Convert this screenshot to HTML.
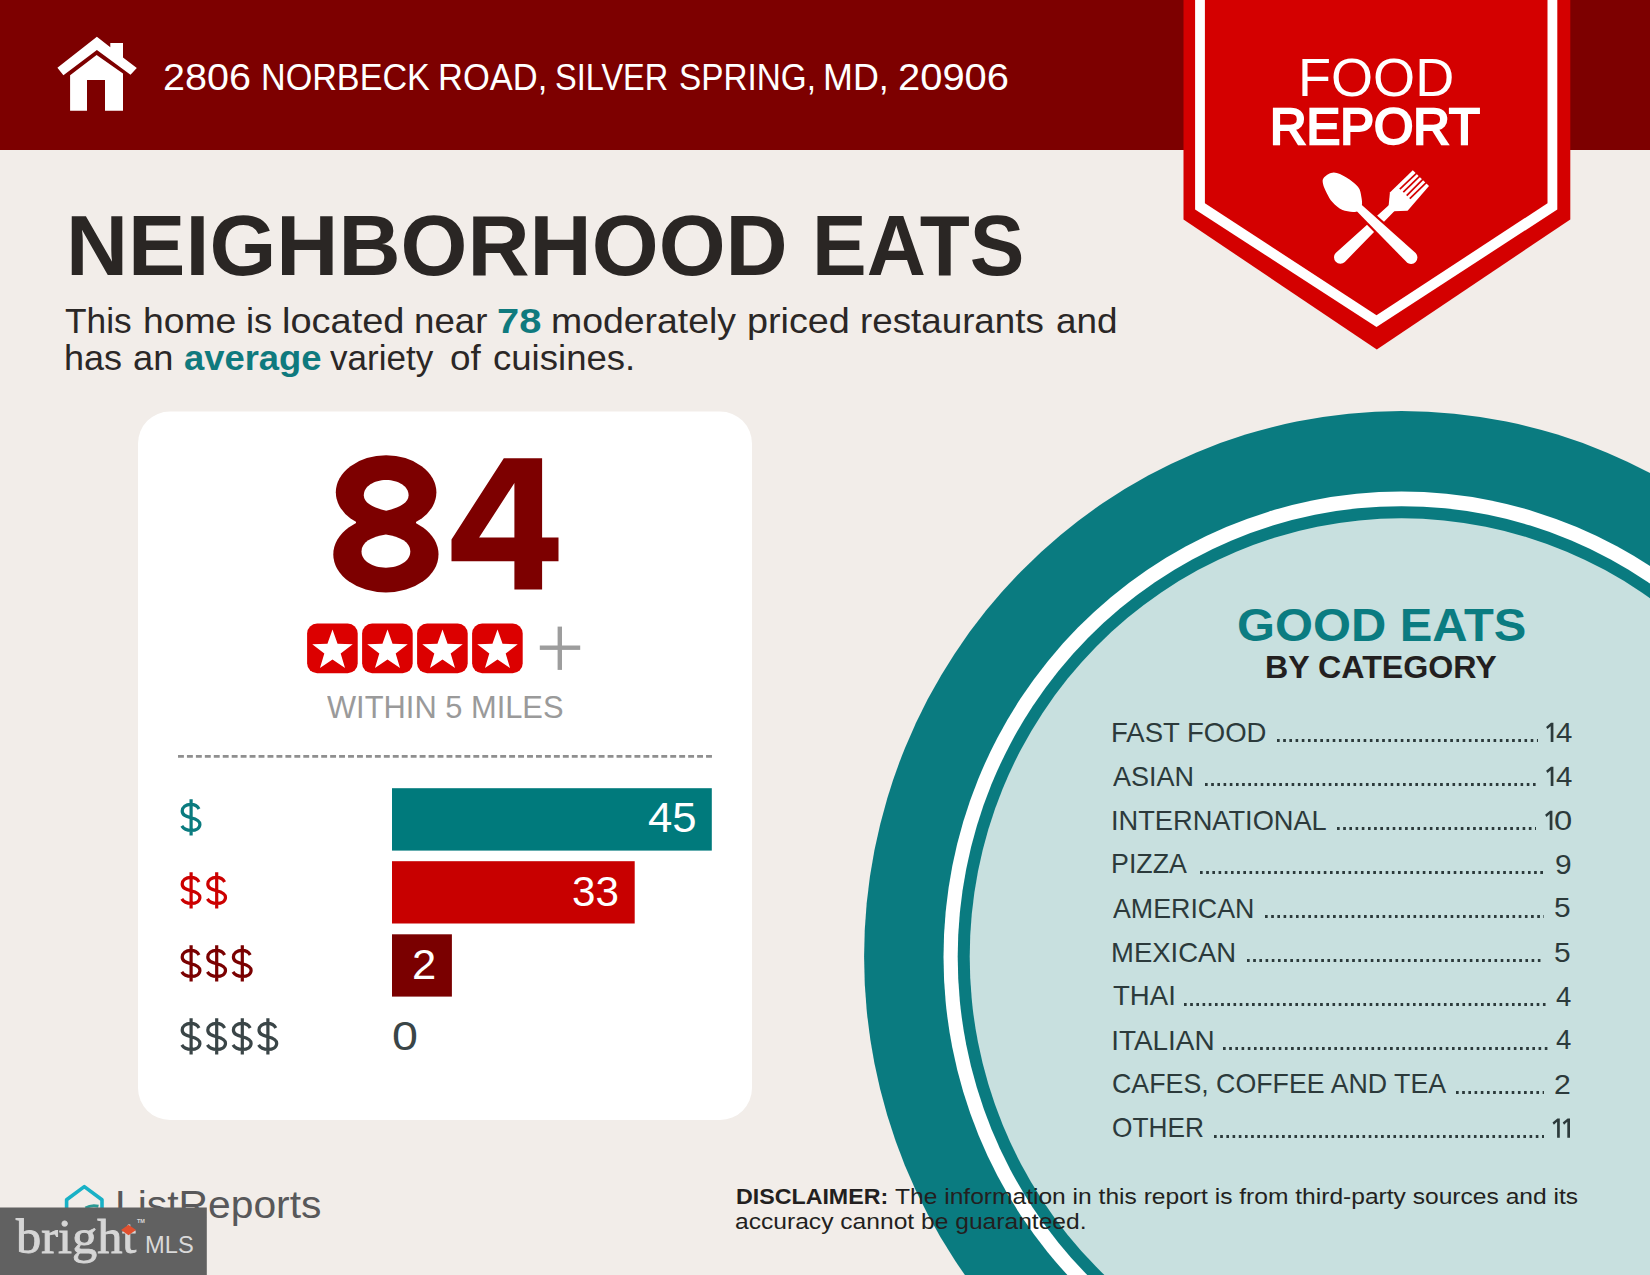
<!DOCTYPE html>
<html><head><meta charset="utf-8"><style>
html,body{margin:0;padding:0;}
body{width:1650px;height:1275px;position:relative;overflow:hidden;background:#f2ede9;font-family:"Liberation Sans",sans-serif;}
.t{position:absolute;white-space:nowrap;line-height:1;transform-origin:0 0;}
.a{position:absolute;}
</style></head><body>
<svg class="a" style="left:0;top:0" width="1650" height="1275" viewBox="0 0 1650 1275">
<rect x="0" y="0" width="1650" height="150" fill="#7d0000"/>
<ellipse cx="1401.5" cy="956.8" rx="537.4" ry="545.7" fill="#0a7b80"/>
<ellipse cx="1401.5" cy="956.8" rx="458.0" ry="465.2" fill="#ffffff"/>
<ellipse cx="1401.5" cy="956.8" rx="443.8" ry="450.6" fill="#0a7b80"/>
<ellipse cx="1401.5" cy="956.8" rx="431.8" ry="438.5" fill="#c8e0df"/>
<polygon points="1183.5,0 1570.3,0 1570.3,219.5 1376.8,349.5 1183.5,219.5" fill="#d40000"/>
<polygon points="1195.1,0 1557.3,0 1557.3,209.5 1376.5,327 1195.1,209.5" fill="#ffffff"/>
<polygon points="1204.9,0 1547.5,0 1547.5,203.3 1376.5,315.2 1204.9,203.3" fill="#d40000"/>
<path d="M1388.6,206.3 L1389.9,192.6 L1412.8,170.2 L1429,186.1 L1407.6,210.7 L1393.4,211.3 Z" fill="#ffffff"/>
<line x1="1399.8" y1="189.2" x2="1419.3" y2="170.7" stroke="#d40000" stroke-width="1.7"/>
<line x1="1403.3" y1="192.2" x2="1422.3" y2="173.7" stroke="#d40000" stroke-width="1.7"/>
<line x1="1406.7" y1="195.6" x2="1425.6" y2="176.7" stroke="#d40000" stroke-width="1.7"/>
<line x1="1409.8" y1="198.6" x2="1428.8" y2="180.2" stroke="#d40000" stroke-width="1.7"/>
<path d="M1390.43,203.81 L1395.97,209.59 L1344.83,261.92 A6.4,6.4 0 0 1 1335.97,252.68 Z" fill="#ffffff"/>
<path d="M1355.60,209.92 L1361.00,204.28 L1415.62,253.08 A6.4,6.4 0 0 1 1406.78,262.32 Z" fill="#d40000" stroke="#d40000" stroke-width="4.5" stroke-linejoin="round"/>
<path d="M1355.60,209.92 L1361.00,204.28 L1415.62,253.08 A6.4,6.4 0 0 1 1406.78,262.32 Z" fill="#ffffff"/>
<path d="M1361.70,205.80 C1362.55,203.25 1361.90,199.53 1361.30,196.40 C1360.70,193.27 1360.58,190.15 1358.10,187.00 C1355.62,183.85 1350.45,179.92 1346.40,177.50 C1342.35,175.08 1337.53,172.50 1333.80,172.50 C1330.07,172.50 1325.80,175.62 1324.00,177.50 C1322.20,179.38 1322.53,181.18 1323.00,183.80 C1323.47,186.42 1325.20,190.12 1326.80,193.20 C1328.40,196.28 1329.98,199.48 1332.60,202.30 C1335.22,205.12 1338.57,208.53 1342.50,210.10 C1346.43,211.67 1353.00,212.42 1356.20,211.70 C1359.40,210.98 1360.85,208.35 1361.70,205.80 Z" fill="#ffffff"/>
<polygon points="96.9,36.7 110.3,47.3 110.3,43.1 123,43.1 123,57.6 136.8,68.1 130.5,74.8 96.9,50.1 63.4,75.2 57.4,67.8" fill="#ffffff"/>
<path d="M96.6,55.1 L123,73.4 L123,110.8 L105,110.8 L105,80.1 L87,80.1 L87,110.8 L70.1,110.8 L70.1,75.2 Z" fill="#ffffff"/>
<rect x="138" y="411.5" width="614" height="708.5" rx="32" ry="32" fill="#ffffff"/>
<ellipse cx="386.1" cy="492.3" rx="50.3" ry="37" fill="#7d0000"/>
<ellipse cx="385.9" cy="554.4" rx="52.6" ry="38" fill="#7d0000"/>
<rect x="356" y="515" width="60" height="12" fill="#7d0000"/>
<path d="M363.8,495.3 C363.8,486.5 373.8,480 386.2,480 C398.6,480 408.6,486.5 408.6,495.3 C408.6,503.5 398,508 386.2,510.8 C374.4,508 363.8,503.5 363.8,495.3 Z" fill="#ffffff"/>
<path d="M361.5,551.6 C361.5,542 371.5,537 385.9,534.6 C400.3,537 410.3,542 410.3,551.6 C410.3,561 399.4,567.7 385.9,567.7 C372.4,567.7 361.5,561 361.5,551.6 Z" fill="#ffffff"/>
<path fill-rule="evenodd" d="M503.8,458.2 L542.1,458.2 L542.1,537.6 L558.5,537.6 L558.5,561.2 L542.1,561.2 L542.1,589.4 L514.4,589.4 L514.4,561.2 L451.5,561.2 L451.5,539.4 Z M479.1,537.6 L514.4,483 L514.4,537.6 Z" fill="#7d0000"/>
<rect x="307.1" y="623.6" width="50.6" height="49.6" rx="10" ry="10" fill="#dc0000"/>
<polygon points="332.50,629.50 337.55,643.84 352.76,644.22 340.68,653.46 345.02,668.03 332.50,659.40 319.98,668.03 324.32,653.46 312.24,644.22 327.45,643.84" fill="#ffffff"/>
<rect x="362.1" y="623.6" width="50.6" height="49.6" rx="10" ry="10" fill="#dc0000"/>
<polygon points="387.50,629.50 392.55,643.84 407.76,644.22 395.68,653.46 400.02,668.03 387.50,659.40 374.98,668.03 379.32,653.46 367.24,644.22 382.45,643.84" fill="#ffffff"/>
<rect x="417.1" y="623.6" width="50.6" height="49.6" rx="10" ry="10" fill="#dc0000"/>
<polygon points="442.50,629.50 447.55,643.84 462.76,644.22 450.68,653.46 455.02,668.03 442.50,659.40 429.98,668.03 434.32,653.46 422.24,644.22 437.45,643.84" fill="#ffffff"/>
<rect x="472.1" y="623.6" width="50.6" height="49.6" rx="10" ry="10" fill="#dc0000"/>
<polygon points="497.50,629.50 502.55,643.84 517.76,644.22 505.68,653.46 510.02,668.03 497.50,659.40 484.98,668.03 489.32,653.46 477.24,644.22 492.45,643.84" fill="#ffffff"/>
<rect x="539.8" y="645.5" width="40.4" height="4.4" fill="#9d9d9d"/>
<rect x="557.6" y="626.6" width="4.4" height="43.3" fill="#9d9d9d"/>
<line x1="178" y1="756.3" x2="712" y2="756.3" stroke="#8f8f8f" stroke-width="2.8" stroke-dasharray="5.9 3.05"/>
<rect x="392" y="788.2" width="319.8" height="62.4" fill="#007a7c"/>
<rect x="392" y="861.2" width="242.7" height="62.3" fill="#c80000"/>
<rect x="392" y="934.3" width="59.9" height="62.3" fill="#7a0000"/>
<path transform="translate(181.80,804.30)" d="M17.2,4.6 C15.6,1.6 12.6,0 9.0,0 C4.0,0 0.4,2.8 0.4,6.8 C0.4,11.0 4.0,12.2 9.0,13.4 C14.4,14.6 18.1,16.2 18.1,20.0 C18.1,24.0 14.4,26.2 9.4,26.2 C5.2,26.2 1.8,24.6 0,21.6 M9.3,-5 L9.3,31.2" fill="none" stroke="#0a7b7f" stroke-width="3.2"/>
<path transform="translate(181.80,877.30)" d="M17.2,4.6 C15.6,1.6 12.6,0 9.0,0 C4.0,0 0.4,2.8 0.4,6.8 C0.4,11.0 4.0,12.2 9.0,13.4 C14.4,14.6 18.1,16.2 18.1,20.0 C18.1,24.0 14.4,26.2 9.4,26.2 C5.2,26.2 1.8,24.6 0,21.6 M9.3,-5 L9.3,31.2" fill="none" stroke="#cc0000" stroke-width="3.2"/>
<path transform="translate(207.40,877.30)" d="M17.2,4.6 C15.6,1.6 12.6,0 9.0,0 C4.0,0 0.4,2.8 0.4,6.8 C0.4,11.0 4.0,12.2 9.0,13.4 C14.4,14.6 18.1,16.2 18.1,20.0 C18.1,24.0 14.4,26.2 9.4,26.2 C5.2,26.2 1.8,24.6 0,21.6 M9.3,-5 L9.3,31.2" fill="none" stroke="#cc0000" stroke-width="3.2"/>
<path transform="translate(181.80,950.30)" d="M17.2,4.6 C15.6,1.6 12.6,0 9.0,0 C4.0,0 0.4,2.8 0.4,6.8 C0.4,11.0 4.0,12.2 9.0,13.4 C14.4,14.6 18.1,16.2 18.1,20.0 C18.1,24.0 14.4,26.2 9.4,26.2 C5.2,26.2 1.8,24.6 0,21.6 M9.3,-5 L9.3,31.2" fill="none" stroke="#7a0000" stroke-width="3.2"/>
<path transform="translate(207.40,950.30)" d="M17.2,4.6 C15.6,1.6 12.6,0 9.0,0 C4.0,0 0.4,2.8 0.4,6.8 C0.4,11.0 4.0,12.2 9.0,13.4 C14.4,14.6 18.1,16.2 18.1,20.0 C18.1,24.0 14.4,26.2 9.4,26.2 C5.2,26.2 1.8,24.6 0,21.6 M9.3,-5 L9.3,31.2" fill="none" stroke="#7a0000" stroke-width="3.2"/>
<path transform="translate(233.00,950.30)" d="M17.2,4.6 C15.6,1.6 12.6,0 9.0,0 C4.0,0 0.4,2.8 0.4,6.8 C0.4,11.0 4.0,12.2 9.0,13.4 C14.4,14.6 18.1,16.2 18.1,20.0 C18.1,24.0 14.4,26.2 9.4,26.2 C5.2,26.2 1.8,24.6 0,21.6 M9.3,-5 L9.3,31.2" fill="none" stroke="#7a0000" stroke-width="3.2"/>
<path transform="translate(181.80,1023.30)" d="M17.2,4.6 C15.6,1.6 12.6,0 9.0,0 C4.0,0 0.4,2.8 0.4,6.8 C0.4,11.0 4.0,12.2 9.0,13.4 C14.4,14.6 18.1,16.2 18.1,20.0 C18.1,24.0 14.4,26.2 9.4,26.2 C5.2,26.2 1.8,24.6 0,21.6 M9.3,-5 L9.3,31.2" fill="none" stroke="#3a4547" stroke-width="3.2"/>
<path transform="translate(207.40,1023.30)" d="M17.2,4.6 C15.6,1.6 12.6,0 9.0,0 C4.0,0 0.4,2.8 0.4,6.8 C0.4,11.0 4.0,12.2 9.0,13.4 C14.4,14.6 18.1,16.2 18.1,20.0 C18.1,24.0 14.4,26.2 9.4,26.2 C5.2,26.2 1.8,24.6 0,21.6 M9.3,-5 L9.3,31.2" fill="none" stroke="#3a4547" stroke-width="3.2"/>
<path transform="translate(233.00,1023.30)" d="M17.2,4.6 C15.6,1.6 12.6,0 9.0,0 C4.0,0 0.4,2.8 0.4,6.8 C0.4,11.0 4.0,12.2 9.0,13.4 C14.4,14.6 18.1,16.2 18.1,20.0 C18.1,24.0 14.4,26.2 9.4,26.2 C5.2,26.2 1.8,24.6 0,21.6 M9.3,-5 L9.3,31.2" fill="none" stroke="#3a4547" stroke-width="3.2"/>
<path transform="translate(258.60,1023.30)" d="M17.2,4.6 C15.6,1.6 12.6,0 9.0,0 C4.0,0 0.4,2.8 0.4,6.8 C0.4,11.0 4.0,12.2 9.0,13.4 C14.4,14.6 18.1,16.2 18.1,20.0 C18.1,24.0 14.4,26.2 9.4,26.2 C5.2,26.2 1.8,24.6 0,21.6 M9.3,-5 L9.3,31.2" fill="none" stroke="#3a4547" stroke-width="3.2"/>
<polygon points="1553.4,722.8000000000001 1553.4,742.1 1550.7,742.1 1550.7,726.2 1547.5,729.0000000000001 1546.1000000000001,726.9000000000001 1551.0,722.8000000000001" fill="#2c3a3b"/>
<polygon points="1553.4,766.7600000000001 1553.4,786.0600000000001 1550.7,786.0600000000001 1550.7,770.1600000000001 1547.5,772.9600000000002 1546.1000000000001,770.8600000000001 1551.0,766.7600000000001" fill="#2c3a3b"/>
<polygon points="1552.4,810.72 1552.4,830.02 1549.7,830.02 1549.7,814.12 1546.5,816.9200000000001 1545.1000000000001,814.82 1550.0,810.72" fill="#2c3a3b"/>
<polygon points="1559.8,1118.44 1559.8,1137.74 1557.1,1137.74 1557.1,1121.8400000000001 1553.8999999999999,1124.64 1552.5,1122.54 1557.3999999999999,1118.44" fill="#2c3a3b"/>
<polygon points="1570,1118.44 1570,1137.74 1567.3,1137.74 1567.3,1121.8400000000001 1564.1,1124.64 1562.7,1122.54 1567.6,1118.44" fill="#2c3a3b"/>
<polyline points="66.6,1209 66.6,1199.8 84.3,1186.6 102,1199.8 102,1209" fill="none" stroke="#19b1c6" stroke-width="3.6" stroke-linejoin="round"/>
<path d="M85.5,1208 Q91,1204.6 98.5,1206.2" fill="none" stroke="#2a9a94" stroke-width="3"/>
</svg>
<div id="aw0" class="t" style="left:162.91px;top:59.96px;font-size:36.48px;font-weight:400;color:#ffffff;font-family:'Liberation Sans', sans-serif;transform:scaleX(1.0827);">2806</div>
<div id="aw1" class="t" style="left:261.18px;top:59.96px;font-size:36.48px;font-weight:400;color:#ffffff;font-family:'Liberation Sans', sans-serif;transform:scaleX(0.9362);">NORBECK</div>
<div id="aw2" class="t" style="left:438.14px;top:59.96px;font-size:36.48px;font-weight:400;color:#ffffff;font-family:'Liberation Sans', sans-serif;transform:scaleX(0.9456);">ROAD,</div>
<div id="aw3" class="t" style="left:555.18px;top:59.96px;font-size:36.48px;font-weight:400;color:#ffffff;font-family:'Liberation Sans', sans-serif;transform:scaleX(0.8920);">SILVER</div>
<div id="aw4" class="t" style="left:679.16px;top:59.96px;font-size:36.48px;font-weight:400;color:#ffffff;font-family:'Liberation Sans', sans-serif;transform:scaleX(0.9132);">SPRING,</div>
<div id="aw5" class="t" style="left:823.05px;top:59.96px;font-size:36.48px;font-weight:400;color:#ffffff;font-family:'Liberation Sans', sans-serif;transform:scaleX(0.9836);">MD,</div>
<div id="aw6" class="t" style="left:897.85px;top:59.96px;font-size:36.48px;font-weight:400;color:#ffffff;font-family:'Liberation Sans', sans-serif;transform:scaleX(1.0940);">20906</div>
<div id="food" class="t" style="left:1297.80px;top:51.29px;font-size:53.93px;font-weight:400;color:#ffffff;font-family:'Liberation Sans', sans-serif;transform:scaleX(1.0028);">FOOD</div>
<div id="report" class="t" style="left:1270.38px;top:102.10px;font-size:50.20px;font-weight:400;color:#ffffff;font-family:'Liberation Sans', sans-serif;transform:scaleX(1.0078);-webkit-text-stroke:2.4px #fff">REPORT</div>
<div id="h1" class="t" style="left:66.18px;top:203.39px;font-size:85.76px;font-weight:700;color:#2a2624;font-family:'Liberation Sans', sans-serif;transform:scaleX(1.0032);">NEIGHBORHOOD</div>
<div id="h1b" class="t" style="left:812.43px;top:203.39px;font-size:85.76px;font-weight:700;color:#2a2624;font-family:'Liberation Sans', sans-serif;transform:scaleX(0.9552);">EATS</div>
<div id="pw0" class="t" style="left:65.49px;top:303.85px;font-size:35.61px;font-weight:400;color:#2b2726;font-family:'Liberation Sans', sans-serif;transform:scaleX(0.9911);">This</div>
<div id="pw1" class="t" style="left:142.61px;top:303.85px;font-size:35.61px;font-weight:400;color:#2b2726;font-family:'Liberation Sans', sans-serif;transform:scaleX(1.0466);">home</div>
<div id="pw2" class="t" style="left:245.82px;top:303.85px;font-size:35.61px;font-weight:400;color:#2b2726;font-family:'Liberation Sans', sans-serif;transform:scaleX(1.0223);">is</div>
<div id="pw3" class="t" style="left:281.74px;top:303.85px;font-size:35.61px;font-weight:400;color:#2b2726;font-family:'Liberation Sans', sans-serif;transform:scaleX(1.0667);">located</div>
<div id="pw4" class="t" style="left:414.43px;top:303.85px;font-size:35.61px;font-weight:400;color:#2b2726;font-family:'Liberation Sans', sans-serif;transform:scaleX(1.0290);">near</div>
<div id="pw5" class="t" style="left:497.32px;top:303.85px;font-size:35.61px;font-weight:700;color:#0f7a7e;font-family:'Liberation Sans', sans-serif;transform:scaleX(1.1193);">78</div>
<div id="pw6" class="t" style="left:551.19px;top:303.85px;font-size:35.61px;font-weight:400;color:#2b2726;font-family:'Liberation Sans', sans-serif;transform:scaleX(1.0506);">moderately</div>
<div id="pw7" class="t" style="left:747.00px;top:303.85px;font-size:35.61px;font-weight:400;color:#2b2726;font-family:'Liberation Sans', sans-serif;transform:scaleX(1.0603);">priced</div>
<div id="pw8" class="t" style="left:860.12px;top:303.85px;font-size:35.61px;font-weight:400;color:#2b2726;font-family:'Liberation Sans', sans-serif;transform:scaleX(1.0320);">restaurants</div>
<div id="pw9" class="t" style="left:1055.85px;top:303.85px;font-size:35.61px;font-weight:400;color:#2b2726;font-family:'Liberation Sans', sans-serif;transform:scaleX(1.0366);">and</div>
<div id="pw10" class="t" style="left:64.46px;top:340.95px;font-size:35.61px;font-weight:400;color:#2b2726;font-family:'Liberation Sans', sans-serif;transform:scaleX(1.0113);">has</div>
<div id="pw11" class="t" style="left:133.35px;top:340.95px;font-size:35.61px;font-weight:400;color:#2b2726;font-family:'Liberation Sans', sans-serif;transform:scaleX(1.0171);">an</div>
<div id="pw12" class="t" style="left:183.79px;top:340.95px;font-size:35.61px;font-weight:700;color:#0f7a7e;font-family:'Liberation Sans', sans-serif;transform:scaleX(1.0211);">average</div>
<div id="pw13" class="t" style="left:330.21px;top:340.95px;font-size:35.61px;font-weight:400;color:#2b2726;font-family:'Liberation Sans', sans-serif;transform:scaleX(0.9848);">variety</div>
<div id="pw14" class="t" style="left:450.46px;top:340.95px;font-size:35.61px;font-weight:400;color:#2b2726;font-family:'Liberation Sans', sans-serif;transform:scaleX(1.0353);">of</div>
<div id="pw15" class="t" style="left:492.97px;top:340.95px;font-size:35.61px;font-weight:400;color:#2b2726;font-family:'Liberation Sans', sans-serif;transform:scaleX(1.0267);">cuisines.</div>
<div id="within" class="t" style="left:327.41px;top:690.55px;font-size:32.12px;font-weight:400;color:#9a9a9a;font-family:'Liberation Sans', sans-serif;transform:scaleX(0.9607);">WITHIN 5 MILES</div>
<div id="n45" class="t" style="left:648.20px;top:797.31px;font-size:42.15px;font-weight:400;color:#ffffff;font-family:'Liberation Sans', sans-serif;transform:scaleX(1.0368);">45</div>
<div id="n33" class="t" style="left:571.80px;top:870.76px;font-size:42.44px;font-weight:400;color:#ffffff;font-family:'Liberation Sans', sans-serif;transform:scaleX(0.9945);">33</div>
<div id="n2" class="t" style="left:411.96px;top:943.56px;font-size:42.44px;font-weight:400;color:#ffffff;font-family:'Liberation Sans', sans-serif;transform:scaleX(1.0261);">2</div>
<div id="n0" class="t" style="left:391.60px;top:1016.42px;font-size:41.13px;font-weight:400;color:#3a4547;font-family:'Liberation Sans', sans-serif;transform:scaleX(1.1339);">0</div>
<div id="good" class="t" style="left:1237.31px;top:601.62px;font-size:46.51px;font-weight:700;color:#0b7c81;font-family:'Liberation Sans', sans-serif;transform:scaleX(1.0497);">GOOD EATS</div>
<div id="bycat" class="t" style="left:1265.16px;top:652.04px;font-size:31.54px;font-weight:700;color:#231f20;font-family:'Liberation Sans', sans-serif;transform:scaleX(1.0205);">BY CATEGORY</div>
<div id="lb0" class="t" style="left:1111.22px;top:719.47px;font-size:27.91px;font-weight:400;color:#2c3a3b;font-family:'Liberation Sans', sans-serif;transform:scaleX(0.9860);">FAST FOOD</div>
<div id="nm0" class="t" style="left:1555.64px;top:717.50px;font-size:28.34px;font-weight:400;color:#2c3a3b;font-family:'Liberation Sans', sans-serif;transform:scaleX(1.0385);">4</div>
<div id="lb1" class="t" style="left:1113.20px;top:762.78px;font-size:27.91px;font-weight:400;color:#2c3a3b;font-family:'Liberation Sans', sans-serif;transform:scaleX(0.9673);">ASIAN</div>
<div id="nm1" class="t" style="left:1555.64px;top:761.50px;font-size:28.34px;font-weight:400;color:#2c3a3b;font-family:'Liberation Sans', sans-serif;transform:scaleX(1.0385);">4</div>
<div id="lb2" class="t" style="left:1111.26px;top:807.09px;font-size:27.91px;font-weight:400;color:#2c3a3b;font-family:'Liberation Sans', sans-serif;transform:scaleX(0.9753);">INTERNATIONAL</div>
<div id="nm2" class="t" style="left:1553.77px;top:805.50px;font-size:28.34px;font-weight:400;color:#2c3a3b;font-family:'Liberation Sans', sans-serif;transform:scaleX(1.1555);">0</div>
<div id="lb3" class="t" style="left:1111.29px;top:850.40px;font-size:27.91px;font-weight:400;color:#2c3a3b;font-family:'Liberation Sans', sans-serif;transform:scaleX(0.9604);">PIZZA</div>
<div id="nm3" class="t" style="left:1554.51px;top:850.08px;font-size:28.34px;font-weight:400;color:#2c3a3b;font-family:'Liberation Sans', sans-serif;transform:scaleX(1.0568);">9</div>
<div id="lb4" class="t" style="left:1113.19px;top:894.71px;font-size:27.91px;font-weight:400;color:#2c3a3b;font-family:'Liberation Sans', sans-serif;transform:scaleX(0.9598);">AMERICAN</div>
<div id="nm4" class="t" style="left:1554.49px;top:893.39px;font-size:28.34px;font-weight:400;color:#2c3a3b;font-family:'Liberation Sans', sans-serif;transform:scaleX(1.0568);">5</div>
<div id="lb5" class="t" style="left:1111.24px;top:939.02px;font-size:27.91px;font-weight:400;color:#2c3a3b;font-family:'Liberation Sans', sans-serif;transform:scaleX(0.9848);">MEXICAN</div>
<div id="nm5" class="t" style="left:1554.49px;top:937.70px;font-size:28.34px;font-weight:400;color:#2c3a3b;font-family:'Liberation Sans', sans-serif;transform:scaleX(1.0568);">5</div>
<div id="lb6" class="t" style="left:1113.24px;top:982.33px;font-size:27.91px;font-weight:400;color:#2c3a3b;font-family:'Liberation Sans', sans-serif;transform:scaleX(0.9879);">THAI</div>
<div id="nm6" class="t" style="left:1555.81px;top:982.01px;font-size:28.34px;font-weight:400;color:#2c3a3b;font-family:'Liberation Sans', sans-serif;transform:scaleX(0.9714);">4</div>
<div id="lb7" class="t" style="left:1111.20px;top:1026.64px;font-size:27.91px;font-weight:400;color:#2c3a3b;font-family:'Liberation Sans', sans-serif;transform:scaleX(1.0000);">ITALIAN</div>
<div id="nm7" class="t" style="left:1555.81px;top:1025.32px;font-size:28.34px;font-weight:400;color:#2c3a3b;font-family:'Liberation Sans', sans-serif;transform:scaleX(0.9714);">4</div>
<div id="lb8" class="t" style="left:1112.23px;top:1070.15px;font-size:27.91px;font-weight:400;color:#2c3a3b;font-family:'Liberation Sans', sans-serif;transform:scaleX(0.9592);">CAFES, COFFEE AND TEA</div>
<div id="nm8" class="t" style="left:1554.49px;top:1069.63px;font-size:28.34px;font-weight:400;color:#2c3a3b;font-family:'Liberation Sans', sans-serif;transform:scaleX(1.0670);">2</div>
<div id="lb9" class="t" style="left:1112.24px;top:1114.26px;font-size:27.91px;font-weight:400;color:#2c3a3b;font-family:'Liberation Sans', sans-serif;transform:scaleX(0.9408);">OTHER</div>
<div id="discb" class="t" style="left:735.57px;top:1185.62px;font-size:22.53px;font-weight:700;color:#231f20;font-family:'Liberation Sans', sans-serif;transform:scaleX(1.0311);">DISCLAIMER:</div>
<div id="disc1" class="t" style="left:895.00px;top:1185.62px;font-size:22.53px;font-weight:400;color:#231f20;font-family:'Liberation Sans', sans-serif;transform:scaleX(1.0917);">The information in this report is from third-party sources and its</div>
<div id="disc2" class="t" style="left:735.13px;top:1210.62px;font-size:22.53px;font-weight:400;color:#231f20;font-family:'Liberation Sans', sans-serif;transform:scaleX(1.0928);">accuracy cannot be guaranteed.</div>
<div id="lrep" class="t" style="left:115.04px;top:1185.82px;font-size:38.95px;font-weight:400;color:#58585a;font-family:'Liberation Sans', sans-serif;transform:scaleX(1.0482);">ListReports</div>
<div id="mls" class="t" style="left:144.90px;top:1233.08px;font-size:24.71px;font-weight:400;color:#d9d9d9;font-family:'Liberation Sans', sans-serif;transform:scaleX(0.9583);z-index:6">MLS</div>
<div id="bright" class="t" style="left:16.10px;top:1211.51px;font-size:49.00px;font-weight:400;color:#d6d6d6;font-family:'Liberation Serif', serif;transform:scaleX(1.0281);z-index:6;-webkit-text-stroke:0.9px #d6d6d6">bright</div>
<svg class="a" style="left:0;top:0;z-index:5" width="1650" height="1275" viewBox="0 0 1650 1275">
<rect x="0" y="1207.5" width="206.8" height="67.5" fill="#616161"/>
</svg>
<svg class="a" style="left:0;top:0;z-index:7" width="1650" height="1275" viewBox="0 0 1650 1275">
<polygon points="128.5,1224.8 136,1230 128.5,1235.2 121,1230" fill="#e0502f"/>
<text x="137" y="1222.5" font-family="Liberation Sans" font-size="5.5" font-weight="700" fill="#d9d9d9">TM</text>
</svg><div class="a" style="left:1277.0px;top:738.90px;width:260.8px;height:3.2px;background:linear-gradient(to right,#2c3a3b 0,#2c3a3b 2.9px,transparent 2.9px) 0 0/6.2px 3.2px repeat-x"></div>
<div class="a" style="left:1205.3px;top:782.86px;width:332.5px;height:3.2px;background:linear-gradient(to right,#2c3a3b 0,#2c3a3b 2.9px,transparent 2.9px) 0 0/6.2px 3.2px repeat-x"></div>
<div class="a" style="left:1337.1px;top:826.82px;width:198.5px;height:3.2px;background:linear-gradient(to right,#2c3a3b 0,#2c3a3b 2.9px,transparent 2.9px) 0 0/6.2px 3.2px repeat-x"></div>
<div class="a" style="left:1199.5px;top:870.78px;width:344.5px;height:3.2px;background:linear-gradient(to right,#2c3a3b 0,#2c3a3b 2.9px,transparent 2.9px) 0 0/6.2px 3.2px repeat-x"></div>
<div class="a" style="left:1264.8px;top:914.74px;width:279.2px;height:3.2px;background:linear-gradient(to right,#2c3a3b 0,#2c3a3b 2.9px,transparent 2.9px) 0 0/6.2px 3.2px repeat-x"></div>
<div class="a" style="left:1247.0px;top:958.70px;width:297.0px;height:3.2px;background:linear-gradient(to right,#2c3a3b 0,#2c3a3b 2.9px,transparent 2.9px) 0 0/6.2px 3.2px repeat-x"></div>
<div class="a" style="left:1183.8px;top:1002.66px;width:364.1px;height:3.2px;background:linear-gradient(to right,#2c3a3b 0,#2c3a3b 2.9px,transparent 2.9px) 0 0/6.2px 3.2px repeat-x"></div>
<div class="a" style="left:1222.7px;top:1046.62px;width:325.2px;height:3.2px;background:linear-gradient(to right,#2c3a3b 0,#2c3a3b 2.9px,transparent 2.9px) 0 0/6.2px 3.2px repeat-x"></div>
<div class="a" style="left:1456.4px;top:1090.58px;width:87.6px;height:3.2px;background:linear-gradient(to right,#2c3a3b 0,#2c3a3b 2.9px,transparent 2.9px) 0 0/6.2px 3.2px repeat-x"></div>
<div class="a" style="left:1213.5px;top:1134.54px;width:330.5px;height:3.2px;background:linear-gradient(to right,#2c3a3b 0,#2c3a3b 2.9px,transparent 2.9px) 0 0/6.2px 3.2px repeat-x"></div>
</body></html>
